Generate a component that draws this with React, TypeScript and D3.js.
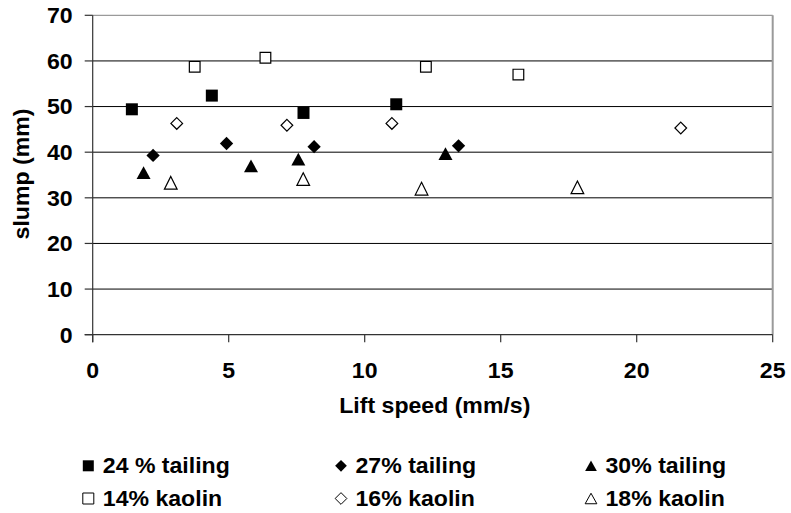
import React from "react";
import * as d3 from "d3";

// lift speed (mm/s) and slump (mm) per mix
const tailing24X = [1.44, 4.38, 7.75, 11.16];
const tailing24Y = [49.4, 52.4, 48.6, 50.5];
const tailing27X = [2.22, 4.92, 8.14, 13.45];
const tailing27Y = [39.3, 41.9, 41.2, 41.4];
const tailing30X = [1.87, 5.82, 7.56, 12.97];
const tailing30Y = [35.5, 37.0, 38.5, 39.7];
const kaolin14X = [3.75, 6.35, 12.25, 15.65];
const kaolin14Y = [58.7, 60.7, 58.7, 57.0];
const kaolin16X = [3.09, 7.14, 11.0, 21.62];
const kaolin16Y = [46.3, 45.9, 46.3, 45.3];
const kaolin18X = [2.87, 7.74, 12.09, 17.82];
const kaolin18Y = [33.3, 34.1, 32.0, 32.3];

const xTicks = [0, 5, 10, 15, 20, 25];
const yTicks = [0, 10, 20, 30, 40, 50, 60, 70];

type Shape = "square" | "diamond" | "triangle";

type Series = {
  name: string;
  xs: number[];
  ys: number[];
  shape: Shape;
  filled: boolean;
};

const series: Series[] = [
  { name: "24 % tailing", xs: tailing24X, ys: tailing24Y, shape: "square", filled: true },
  { name: "27% tailing", xs: tailing27X, ys: tailing27Y, shape: "diamond", filled: true },
  { name: "30% tailing", xs: tailing30X, ys: tailing30Y, shape: "triangle", filled: true },
  { name: "14% kaolin", xs: kaolin14X, ys: kaolin14Y, shape: "square", filled: false },
  { name: "16% kaolin", xs: kaolin16X, ys: kaolin16Y, shape: "diamond", filled: false },
  { name: "18% kaolin", xs: kaolin18X, ys: kaolin18Y, shape: "triangle", filled: false },
];

const width = 791;
const height = 513;
const margin = { left: 92.7, right: 15, top: 15.3, bottom: 178.3 };
const font = "'Liberation Sans', Arial, sans-serif";
const fontSize = 22;
const stretch = 1.05;

// marker outline centred on its bounding box
function markerPath(shape: Shape, filled: boolean, small = false) {
  const p = d3.path();
  if (shape === "square") {
    const s = small ? 11 : filled ? 12 : 10.7;
    p.rect(-s / 2, -s / 2, s, s);
  } else if (shape === "diamond") {
    const s = small ? 11.7 : filled ? 13.3 : 11.7;
    p.moveTo(0, -s / 2);
    p.lineTo(s / 2, 0);
    p.lineTo(0, s / 2);
    p.lineTo(-s / 2, 0);
    p.closePath();
  } else {
    const w = small ? 11.7 : filled ? 14 : 12.7;
    const h = small ? 10.5 : 12.7;
    p.moveTo(0, -h / 2);
    p.lineTo(w / 2, h / 2);
    p.lineTo(-w / 2, h / 2);
    p.closePath();
  }
  return p.toString();
}

function Label({
  x,
  y,
  anchor = "start",
  rotate = 0,
  children,
}: {
  x: number;
  y: number;
  anchor?: string;
  rotate?: number;
  children: React.ReactNode;
}) {
  return (
    <text
      transform={`translate(${x},${y}) rotate(${rotate}) scale(${stretch},1)`}
      textAnchor={anchor}
      fontFamily={font}
      fontWeight="bold"
      fontSize={fontSize}
      fill="#000"
    >
      {children}
    </text>
  );
}

export default function App() {
  const x = d3
    .scaleLinear()
    .domain([0, 25])
    .range([margin.left, width - margin.right - 3.3]);
  const y = d3
    .scaleLinear()
    .domain([0, 70])
    .range([height - margin.bottom, margin.top]);

  const [x0, x1] = x.range();
  const [y0, y1] = y.range();

  const legendCols = [88.3, 341, 591];
  const legendRows = [473.3, 506];

  return (
    <svg
      width={width}
      height={height}
      style={{ position: "absolute", left: 0, top: 0, background: "#fff" }}
    >
      {/* grid lines */}
      {yTicks.slice(1, -1).map((t) => (
        <line
          key={t}
          x1={x0}
          x2={x1}
          y1={y(t)}
          y2={y(t)}
          stroke="#000"
          strokeWidth={1}
        />
      ))}
      {/* plot border top / right */}
      <line x1={x0} x2={x1} y1={y1} y2={y1} stroke="#9a9a9a" strokeWidth={1.2} />
      <line x1={x1} x2={x1} y1={y1} y2={y0} stroke="#9a9a9a" strokeWidth={2} />

      {/* y axis */}
      <line x1={x0} x2={x0} y1={y1} y2={y0 + 7.5} stroke="#333" strokeWidth={1.2} />
      {yTicks.map((t) => (
        <g key={t}>
          <line x1={x0 - 8} x2={x0} y1={y(t)} y2={y(t)} stroke="#333" strokeWidth={1.2} />
          <Label x={72.7} y={y(t) + 7.8} anchor="end">
            {t}
          </Label>
        </g>
      ))}

      {/* x axis */}
      <line x1={x0 - 8} x2={x1} y1={y0} y2={y0} stroke="#333" strokeWidth={1.2} />
      {xTicks.map((t) => (
        <g key={t}>
          <line x1={x(t)} x2={x(t)} y1={y0} y2={y0 + 7.5} stroke="#333" strokeWidth={1.2} />
          <Label x={x(t)} y={378} anchor="middle">
            {t}
          </Label>
        </g>
      ))}

      <Label x={434.8} y={413} anchor="middle">
        Lift speed (mm/s)
      </Label>
      <Label x={29} y={174} anchor="middle" rotate={-90}>
        slump (mm)
      </Label>

      {/* points */}
      {series.map((s) =>
        s.xs.map((v, i) => (
          <path
            key={s.name + i}
            d={markerPath(s.shape, s.filled)}
            transform={`translate(${x(v)},${y(s.ys[i])})`}
            fill={s.filled ? "#000" : "#fff"}
            stroke="#000"
            strokeWidth={s.filled ? 0 : 1.2}
          />
        )),
      )}

      {/* legend */}
      {series.map((s, i) => {
        const cx = legendCols[i % 3];
        const by = legendRows[Math.floor(i / 3)];
        return (
          <g key={s.name}>
            <path
              d={markerPath(s.shape, s.filled, true)}
              transform={`translate(${cx},${by - 7.5})`}
              fill={s.filled ? "#000" : "#fff"}
              stroke="#000"
              strokeWidth={s.filled ? 0 : 1}
            />
            <Label x={cx + 14.5} y={by}>
              {s.name}
            </Label>
          </g>
        );
      })}
    </svg>
  );
}
